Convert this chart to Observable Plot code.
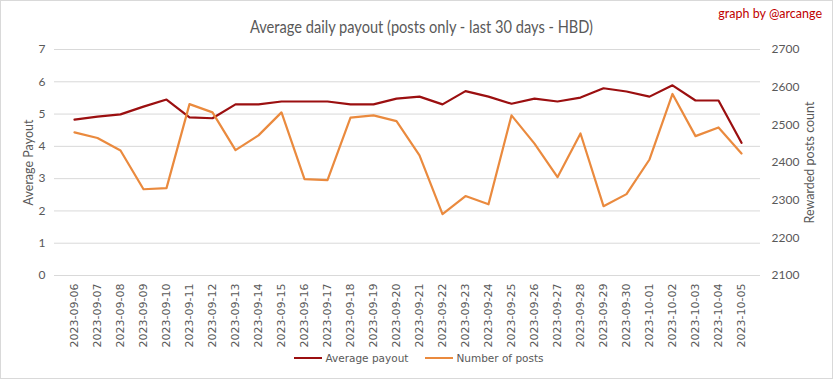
<!DOCTYPE html>
<html><head><meta charset="utf-8">
<script src="https://cdn.jsdelivr.net/npm/d3@7"></script>
<script src="https://cdn.jsdelivr.net/npm/@observablehq/plot@0.6"></script>
<style>
html,body{margin:0;padding:0;background:#fff;}
#wrap{position:relative;width:833px;height:379px;overflow:hidden;font-family:Lato,sans-serif;}
#frame{position:absolute;left:0;top:0;width:831px;height:377px;border:1px solid #d9d9d9;pointer-events:none;}
#chart{position:absolute;left:0;top:0;}
#title{position:absolute;left:0;top:16px;width:842px;text-align:center;line-height:22px;}
#title span{display:inline-block;font-size:17px;color:#595959;transform:scaleX(0.86);transform-origin:center;white-space:nowrap;}
#credit{position:absolute;right:11px;top:6px;font-size:12.5px;color:#c00000;}
#legend{position:absolute;left:0;top:352px;width:838px;display:flex;justify-content:center;gap:17px;font-family:"DejaVu Sans",sans-serif;font-size:10.5px;color:#595959;}
.item{display:flex;align-items:center;gap:3px;}
.sw{width:28px;height:2.5px;display:inline-block;}
</style></head>
<body>
<div id="wrap">
  <div id="chart"></div>
  <div id="title"><span>Average daily payout (posts only - last 30 days - HBD)</span></div>
  <div id="credit">graph by @arcange</div>
  <div id="legend"></div>
  <div id="frame"></div>
</div>
<script>
const dates = ["2023-09-06","2023-09-07","2023-09-08","2023-09-09","2023-09-10","2023-09-11","2023-09-12","2023-09-13","2023-09-14","2023-09-15","2023-09-16","2023-09-17","2023-09-18","2023-09-19","2023-09-20","2023-09-21","2023-09-22","2023-09-23","2023-09-24","2023-09-25","2023-09-26","2023-09-27","2023-09-28","2023-09-29","2023-09-30","2023-10-01","2023-10-02","2023-10-03","2023-10-04","2023-10-05"];
const payout = [4.83,4.92,4.99,5.23,5.45,4.90,4.87,5.30,5.30,5.39,5.39,5.39,5.30,5.30,5.48,5.54,5.30,5.71,5.54,5.32,5.48,5.39,5.51,5.80,5.70,5.54,5.89,5.42,5.42,4.11];
const posts = [2480,2465,2432,2329,2332,2555,2533,2433,2472,2533,2356,2353,2519,2525,2510,2419,2263,2311,2289,2525,2450,2361,2477,2284,2316,2408,2582,2470,2493,2424];
const leftTicks = [0,1,2,3,4,5,6,7];
const rightTicks = [2100,2200,2300,2400,2500,2600,2700];
const seriesNames = ["Average payout","Number of posts"];
const colors = ["#9b0f10","#ea8a3e"];

const rMin = 2100, rMax = 2700, lMax = 7;
const toLeft = p => (p - rMin) / (rMax - rMin) * lMax;
const rows = dates.map((d,i) => ({date:d, payout:payout[i], posts:posts[i]}));

const chart = Plot.plot({
  width: 833, height: 379,
  marginTop: 49, marginBottom: 104, marginLeft: 54, marginRight: 73,
  style: {fontFamily: "Lato, sans-serif", fontSize: "12px", color: "#595959", background: "transparent"},
  x: {type: "point", domain: dates, padding: 0.5},
  y: {domain: [0, lMax]},
  marks: [
    Plot.gridY(leftTicks, {stroke: "#d9d9d9", strokeOpacity: 1}),
    Plot.axisY(leftTicks, {tickSize: 0, tickPadding: 9, label: null, fontSize: 12}),
    Plot.text(rightTicks, {y: toLeft, text: d => String(d), frameAnchor: "right", textAnchor: "start", dx: 11, fontSize: 12}),
    Plot.axisX({tickRotate: -90, tickSize: 0, tickPadding: 8, label: null, fontFamily: "DejaVu Sans, sans-serif", fontSize: 11}),
    Plot.text(["Average Payout"], {frameAnchor: "left", textAnchor: "middle", dx: -26, rotate: -90, fontSize: 12.5}),
    Plot.text(["Rewarded posts count"], {frameAnchor: "right", textAnchor: "middle", dx: 49, rotate: -90, fontSize: 12.5}),
    Plot.lineY(rows, {x: "date", y: "payout", stroke: colors[0], strokeWidth: 2.2}),
    Plot.lineY(rows, {x: "date", y: d => toLeft(d.posts), stroke: colors[1], strokeWidth: 2.2})
  ]
});
document.getElementById("chart").appendChild(chart);

const legend = document.getElementById("legend");
seriesNames.forEach((n, i) => {
  const it = document.createElement("div");
  it.className = "item";
  it.innerHTML = `<span class="sw" style="background:${colors[i]}"></span><span>${n}</span>`;
  legend.appendChild(it);
});
</script>
</body></html>
